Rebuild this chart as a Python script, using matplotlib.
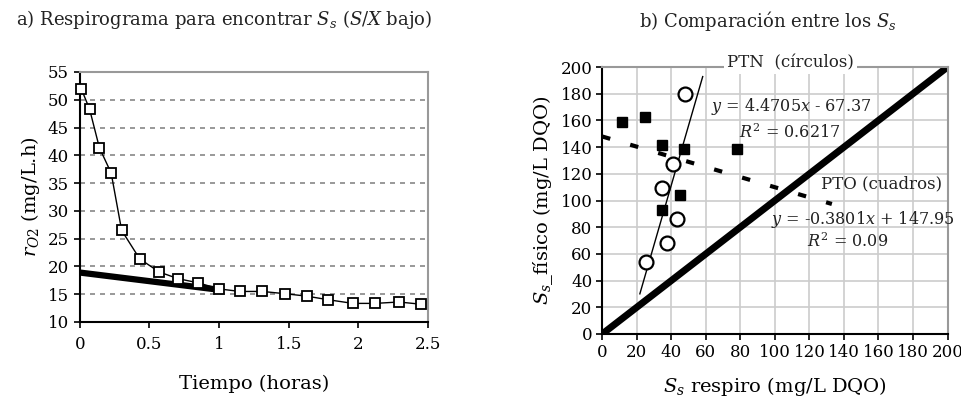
import numpy as np
import matplotlib.pyplot as plt

plt.rcParams['font.family'] = ['DejaVu Serif']
plt.rcParams['mathtext.fontset'] = 'dejavuserif'
plt.rcParams['font.size'] = 12
plt.rcParams['text.color'] = '#222222'

# a) respirograma
tiempo = [0.01, 0.07, 0.14, 0.225, 0.30, 0.43, 0.57, 0.705, 0.85, 1.0,
          1.15, 1.31, 1.47, 1.63, 1.785, 1.96, 2.12, 2.29, 2.45]
r_o2 = [52.0, 48.3, 41.4, 36.8, 26.5, 21.35, 19.0, 17.8, 17.05, 15.95,
        15.5, 15.5, 15.1, 14.65, 14.0, 13.35, 13.35, 13.6, 13.2]
tangente_x = [0.0, 1.0]
tangente_y = [18.9, 15.8]

# b) comparacion
ptn_x = [47.9, 41.2, 34.6, 43.3, 37.3, 25.1]
ptn_y = [180, 127.5, 109, 86.25, 68, 54]
pto_x = [11.2, 24.5, 34.4, 47.1, 78.3, 45.2, 34.4]
pto_y = [158.75, 162.75, 141.5, 138.5, 138.5, 104, 92.75]
ptn_fit = (4.4705, -67.37)
pto_fit = (-0.3801, 147.95)

fig = plt.figure(figsize=(9.62, 4.0), dpi=100)

ax1 = fig.add_axes([0.083, 0.195, 0.362, 0.625])
ax1.plot(tangente_x, tangente_y, color='black', lw=4.5, solid_capstyle='butt', zorder=2)
ax1.plot(tiempo, r_o2, color='black', lw=1, marker='s', ms=6.5, mfc='white',
         mec='black', mew=1.3, zorder=3, clip_on=False)
ax1.set_xlim(0, 2.5)
ax1.set_ylim(10, 55)
ax1.set_xticks([0, 0.5, 1, 1.5, 2, 2.5])
ax1.set_xticklabels(['0', '0.5', '1', '1.5', '2', '2.5'])
ax1.set_yticks(range(10, 60, 5))
for v in range(15, 55, 5):
    ax1.axhline(v, color='#888888', lw=1.2, ls=(0, (3, 3)), zorder=1)
for s in ['top', 'right', 'left', 'bottom']:
    ax1.spines[s].set_linewidth(1.5)
ax1.spines['top'].set_color('#999999')
ax1.spines['right'].set_color('#999999')
ax1.tick_params(direction='out', length=4, width=1.2, labelsize=12, pad=4)
ax1.tick_params(axis='x', pad=6)
ax1.set_xlabel('Tiempo (horas)', fontsize=14, labelpad=16)
ax1.set_ylabel(r'$r_{O2}$ (mg/L.h)', fontsize=14, labelpad=4)
fig.text(0.233, 0.952, r'a) Respirograma para encontrar $S_s$ ($S$/$X$ bajo)',
         ha='center', va='center', fontsize=13)

ax2 = fig.add_axes([0.626, 0.165, 0.359, 0.6675])
ax2.set_xlim(0, 200)
ax2.set_ylim(0, 200)
ax2.set_xticks(range(0, 220, 20))
ax2.set_yticks(range(0, 220, 20))
ax2.grid(True, color='#cccccc', lw=1.2)
ax2.set_axisbelow(True)
ax2.plot([0, 200], [0, 200], color='black', lw=5, zorder=2)
xs = np.array([21.8, 58.2])
ax2.plot(xs, ptn_fit[0] * xs + ptn_fit[1], color='black', lw=1, zorder=3)
xs = np.array([0, 133])
ax2.plot(xs, pto_fit[0] * xs + pto_fit[1], color='black', lw=3,
         ls=(0, (2, 5)), zorder=3)
ax2.plot(pto_x, pto_y, 's', color='black', ms=7.5, zorder=4)
ax2.plot(ptn_x, ptn_y, 'o', mfc='white', mec='black', ms=10, mew=1.6, zorder=5)
for s in ['top', 'right', 'left', 'bottom']:
    ax2.spines[s].set_linewidth(1.5)
ax2.spines['top'].set_color('#999999')
ax2.spines['right'].set_color('#999999')
ax2.tick_params(direction='out', length=4, width=1.2, labelsize=12, pad=3)
ax2.text(109, 203, 'PTN  (círculos)', ha='center', va='center', fontsize=12,
         bbox=dict(facecolor='white', edgecolor='none', pad=2), clip_on=False)
ax2.text(109.6, 170.75, r'$y$ = 4.4705$x$ - 67.37', ha='center', va='center', fontsize=11.5)
ax2.text(108.6, 150.75, r'$R^2$ = 0.6217', ha='center', va='center', fontsize=11.5)
ax2.text(162, 112.5, 'PTO (cuadros)', ha='center', va='center', fontsize=12)
ax2.text(151, 85.75, r'$y$ = -0.3801$x$ + 147.95', ha='center', va='center', fontsize=11.5)
ax2.text(142, 69.5, r'$R^2$ = 0.09', ha='center', va='center', fontsize=11.5)
ax2.set_xlabel(r'$S_s$ respiro (mg/L DQO)', fontsize=14, labelpad=10)
ax2.set_ylabel(r'$S_s$_físico (mg/L DQO)', fontsize=14, labelpad=4)
fig.text(0.798, 0.947, r'b) Comparación entre los $S_s$', ha='center', va='center', fontsize=13)

fig.savefig('out.png', dpi=100)
